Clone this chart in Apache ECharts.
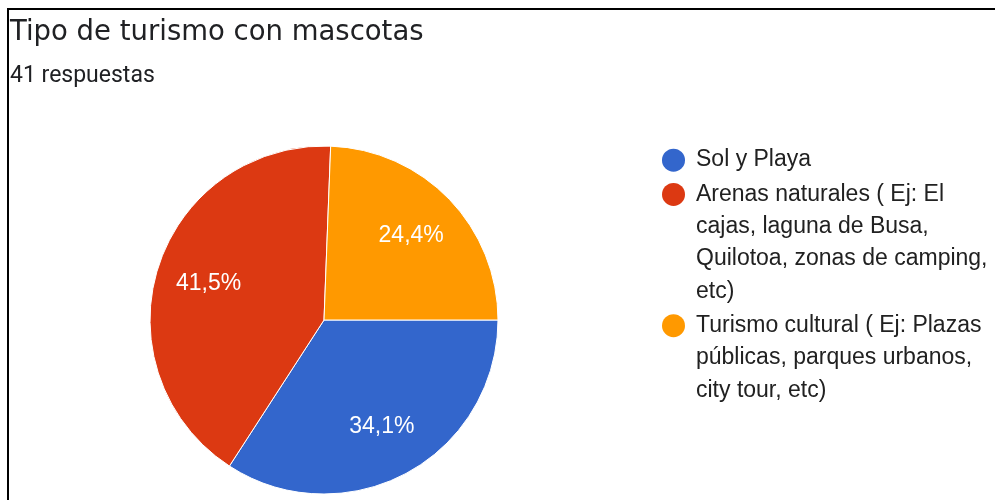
<!DOCTYPE html>
<html><head><meta charset="utf-8">
<script src="https://cdn.jsdelivr.net/npm/echarts@6/dist/echarts.min.js"></script>
<style>html,body{margin:0;padding:0;background:#fff}#c{width:995px;height:500px}</style>
</head><body><div id="c"></div>
<script>
const titleText = 'Tipo de turismo con mascotas';
const subtitleText = '41 respuestas';
const categories = ['Sol y Playa', 'Arenas naturales ( Ej: El cajas, laguna de Busa, Quilotoa, zonas de camping, etc)', 'Turismo cultural ( Ej: Plazas públicas, parques urbanos, city tour, etc)'];
const legendLines = [['Sol y Playa'], ['Arenas naturales ( Ej: El', 'cajas, laguna de Busa,', 'Quilotoa, zonas de camping,', 'etc)'], ['Turismo cultural ( Ej: Plazas', 'públicas, parques urbanos,', 'city tour, etc)']];
const counts = [14, 17, 10];
const colors = ['#3366cc', '#dc3912', '#ff9900'];

const LH = 32.3;
const total = counts.reduce((a, b) => a + b, 0);
const pieData = categories.map((n, i) => ({ name: n, value: counts[i], itemStyle: { color: colors[i] } }));
const fmtPct = p => (Math.round(p.value / total * 1000) / 10).toFixed(1).replace('.', ',') + '%';

const rich = { gap: { width: 11 }, ind: { width: 34 } };
colors.forEach((c, i) => { rich['d' + i] = { width: 23, height: 23, borderRadius: 11.5, backgroundColor: c }; });
const legendFormatter = name => {
  const i = categories.indexOf(name);
  return legendLines[i].map((l, k) => (k === 0 ? '{d' + i + '|}{gap|}' : '{ind|}') + l).join('\n');
};

const chart = echarts.init(document.getElementById('c'), null, { renderer: 'canvas' });
chart.setOption({
  animation: false,
  title: [
    { text: titleText, left: 5, top: 14, textStyle: { fontFamily: 'DejaVu Sans', fontWeight: 'normal', fontSize: 27.5, color: '#202124' } },
    { text: subtitleText, left: 5, top: 60, textStyle: { fontFamily: 'Roboto', fontWeight: 'normal', fontSize: 23, color: '#202124' } }
  ],
  graphic: [
    { type: 'line', shape: { x1: 8, y1: 9, x2: 995, y2: 9 }, style: { stroke: '#000', lineWidth: 2 } },
    { type: 'line', shape: { x1: 8, y1: 8, x2: 8, y2: 500 }, style: { stroke: '#000', lineWidth: 2 } }
  ],
  legend: {
    orient: 'vertical', left: 656, top: 144, padding: 0, itemGap: 2, itemWidth: 0, itemHeight: 0,
    itemStyle: { opacity: 0 },
    data: categories,
    formatter: legendFormatter,
    textStyle: { fontFamily: 'Liberation Sans', fontSize: 23, lineHeight: LH, color: '#212121', rich: rich }
  },
  series: [
    {
      type: 'pie', center: [324, 320], radius: [0, 174], startAngle: 0, clockwise: true,
      data: pieData, label: { show: false }, labelLine: { show: false },
      itemStyle: { borderColor: '#fff', borderWidth: 1 }, emphasis: { disabled: true }, silent: true
    },
    {
      type: 'pie', center: [324, 320], radius: [62, 174], startAngle: 0, clockwise: true,
      data: categories.map((n, i) => ({ name: n, value: counts[i] })),
      itemStyle: { color: 'rgba(0,0,0,0)' }, labelLine: { show: false }, silent: true, emphasis: { disabled: true },
      label: { show: true, position: 'inside', formatter: fmtPct, color: '#fff', fontFamily: 'Liberation Sans', fontSize: 23 }
    }
  ]
});
</script></body></html>
